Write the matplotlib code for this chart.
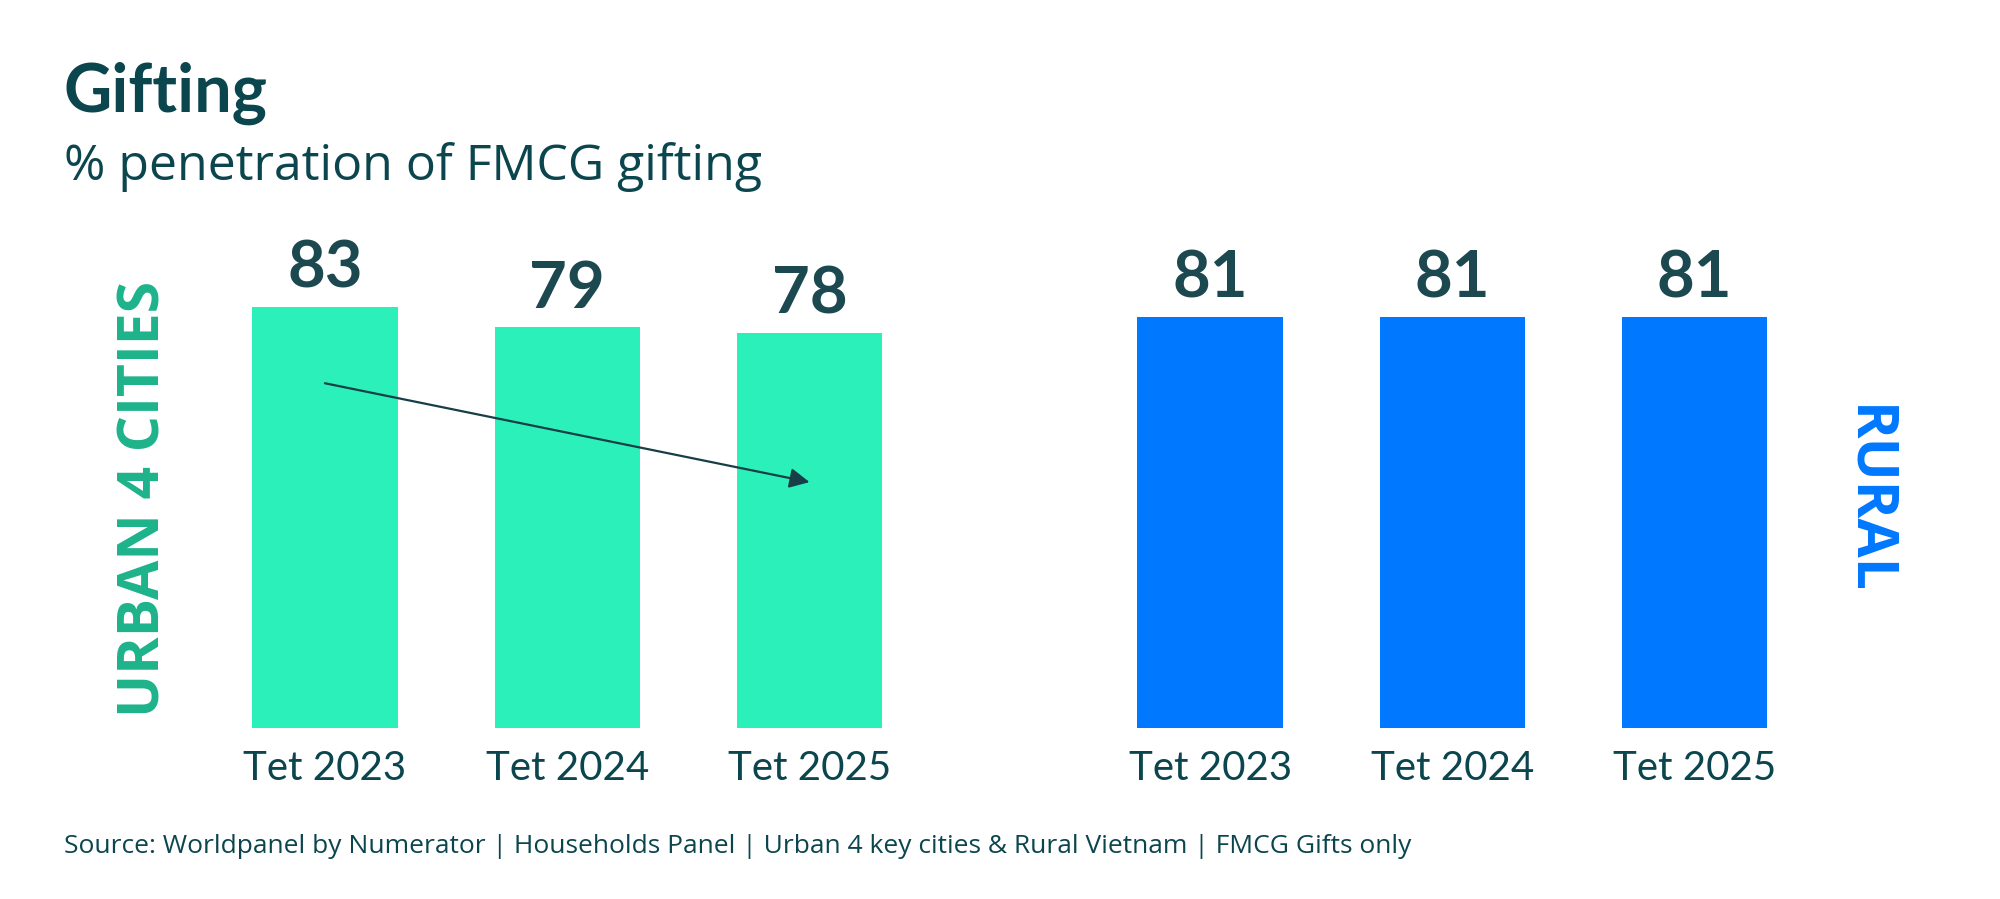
import matplotlib.pyplot as plt

# data
periods = ["Tet 2023", "Tet 2024", "Tet 2025"]
urban_values = [83, 79, 78]
rural_values = [81, 81, 81]

urban_pos = [0, 1, 2]
rural_pos = [3.653, 4.653, 5.653]

DARK = "#0b464e"
NUM = "#1c4850"
GREEN = "#2cf0b9"
GREEN_TXT = "#1db38a"
BLUE = "#0078ff"

plt.rcParams['font.family'] = ['Lato', 'DejaVu Sans']
WIDE = ['Open Sans', 'DejaVu Sans']

W, H = 2000, 899
fig = plt.figure(figsize=(W / 100, H / 100), dpi=100)

# axes: zero line at 171 px above figure bottom, 5.07 px per unit
ax = fig.add_axes([0, 171 / H, 1, 120 * 5.07 / H])
ax.set_xlim(-1.341, 6.913)
ax.set_ylim(0, 120)

ax.bar(urban_pos, urban_values, width=0.6, color=GREEN)
ax.bar(rural_pos, rural_values, width=0.6, color=BLUE)

for x, v in zip(urban_pos + rural_pos, urban_values + rural_values):
    ax.annotate(str(v), (x, v), xytext=(0, 14), textcoords="offset points",
                ha="center", va="baseline", fontsize=47, fontweight="bold", color=NUM)

ax.set_xticks(urban_pos + rural_pos, periods + periods)
ax.tick_params(axis="x", length=0, pad=15.5, labelsize=29, labelcolor=DARK)
ax.set_yticks([])
for s in ax.spines.values():
    s.set_visible(False)
ax.patch.set_alpha(0)

# trend arrow on the urban bars
ax.annotate("", xy=(2, 48.5), xytext=(0, 68),
            arrowprops=dict(arrowstyle="-|>", color="#173f47", lw=1.6,
                            mutation_scale=30, shrinkA=0, shrinkB=0))

# titles
fig.text(64 / W, 1 - 112 / H, "Gifting", fontsize=48, fontweight="bold",
         color=DARK, va="baseline")
fig.text(64 / W, 1 - 180 / H, "% penetration of FMCG gifting", fontsize=36,
         color=DARK, va="baseline", family=WIDE)

# group labels
fig.text(145 / W, 1 - 499 / H, "URBAN 4 CITIES", rotation=90, fontsize=41,
         fontweight="bold", color=GREEN_TXT, ha="center", va="center", family=WIDE)
fig.text(1867 / W, 1 - 500 / H, "RURAL", rotation=-90, fontsize=41,
         fontweight="bold", color=BLUE, ha="center", va="center", family=WIDE)

fig.text(64 / W, 1 - 853 / H,
         "Source: Worldpanel by Numerator | Households Panel | Urban 4 key cities & Rural Vietnam | FMCG Gifts only",
         fontsize=19, color=DARK, va="baseline", family=WIDE)

fig.savefig("out.png", dpi=100)
